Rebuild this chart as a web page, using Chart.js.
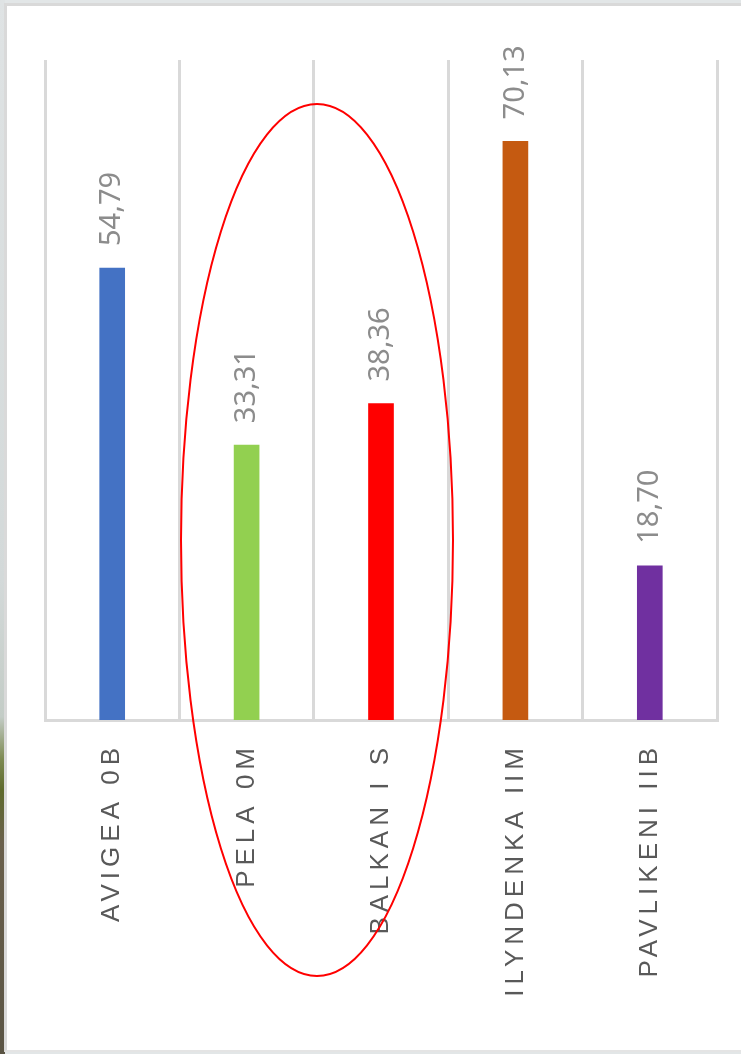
<!DOCTYPE html>
<html>
<head>
<meta charset="utf-8">
<script src="https://cdn.jsdelivr.net/npm/chart.js@4/dist/chart.umd.min.js"></script>
<style>
	body {
		margin: 0;
		width: 741px;
		height: 1054px;
		overflow: hidden;
		background: #e2e6e7;
	}
	#strip {
		position: absolute;
		left: 0;
		top: 0;
		width: 5px;
		height: 1054px;
		background: linear-gradient(to bottom, #dfe3e4 0%, #d3d9d9 55%, #c3ccc6 68%, #7d8a52 72%, #5e6a2c 75%, #6a604c 80%, #5a5444 100%);
	}
	#frame {
		position: absolute;
		left: 4px;
		top: 3px;
		width: 737px;
		height: 1049px;
		background: #ffffff;
		border-left: 3px solid #d9d9d9;
		border-top: 3px solid #d9d9d9;
		border-bottom: 2px solid #e4e4e4;
		box-sizing: border-box;
	}
	#bar-chart {
		position: absolute;
		left: 0;
		top: 0;
	}
</style>
</head>
<body>
<div id="strip"></div>
<div id="frame"></div>
<canvas id="bar-chart" width="741" height="1054"></canvas>
<script>
var categories = ["AVIGEA 0B", "PELA 0M", "BALKAN I S", "ILYNDENKA IIM", "PAVLIKENI IIB"];
var values = [54.79, 33.31, 38.36, 70.13, 18.70];
var barColors = ["#4472C4", "#92D050", "#FF0000", "#C55A11", "#7030A0"];
var yMax = 80;

// wide letter spacing for the category labels only
var spacingPlugin = {
	id: 'spacing',
	beforeDraw: function(chart) {
		chart.ctx.letterSpacing = '5px';
	},
	beforeDatasetsDraw: function(chart) {
		chart.ctx.letterSpacing = '0px';
	}
};

// rotated value labels above each bar
var valueLabels = {
	id: 'valueLabels',
	afterDatasetsDraw: function(chart) {
		var ctx = chart.ctx;
		var meta = chart.getDatasetMeta(0);
		ctx.save();
		ctx.letterSpacing = '0px';
		ctx.fillStyle = '#8c8c8c';
		ctx.font = '29px "Noto Sans"';
		ctx.textAlign = 'left';
		ctx.textBaseline = 'middle';
		meta.data.forEach(function(bar, i) {
			ctx.save();
			ctx.translate(bar.x, bar.y - 22);
			ctx.rotate(-Math.PI / 2);
			ctx.fillText(values[i].toFixed(2).replace('.', ','), 0, 0);
			ctx.restore();
		});
		ctx.restore();
	}
};

// the hand drawn red ring round two bars
var ring = {
	id: 'ring',
	afterDraw: function(chart) {
		var ctx = chart.ctx;
		ctx.save();
		ctx.strokeStyle = '#ff0000';
		ctx.lineWidth = 2;
		ctx.beginPath();
		ctx.ellipse(317, 540, 136, 436, 0, 0, Math.PI * 2);
		ctx.stroke();
		ctx.restore();
	}
};

new Chart(document.getElementById("bar-chart"), {
	type: 'bar',
	data: {
		labels: categories,
		datasets: [{
			data: values,
			backgroundColor: barColors,
			barThickness: 25
		}]
	},
	options: {
		responsive: false,
		animation: false,
		layout: {
			padding: { left: 45, right: 24, top: 60, bottom: 14 }
		},
		plugins: {
			legend: { display: false },
			tooltip: { enabled: false }
		},
		scales: {
			x: {
				afterFit: function(scale) { scale.height = 320; },
				grid: {
					offset: true,
					color: '#d9d9d9',
					lineWidth: 3,
					drawTicks: false
				},
				border: { color: '#d9d9d9', width: 3 },
				ticks: {
					color: '#595959',
					font: { family: '"Liberation Sans"', size: 26 },
					minRotation: 90,
					maxRotation: 90,
					padding: 23
				}
			},
			y: {
				display: false,
				min: 0,
				max: yMax
			}
		}
	},
	plugins: [spacingPlugin, valueLabels, ring]
});
</script>
</body>
</html>
